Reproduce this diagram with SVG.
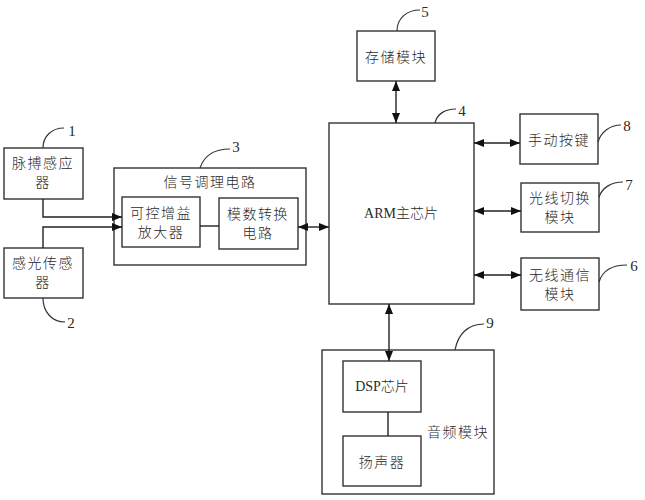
<svg xmlns="http://www.w3.org/2000/svg" width="645" height="500" viewBox="0 0 645 500">
<style>
rect.box{fill:#fff;stroke:#333;stroke-width:1.4}
text{font-family:"Liberation Serif","Noto Sans CJK SC",serif;font-size:14px;font-weight:300;fill:#2a2a2a;text-anchor:middle;dominant-baseline:central;letter-spacing:1.5px}
text.num{font-size:15px;letter-spacing:0;font-weight:400}
.lead{fill:none;stroke:#333;stroke-width:1.2}
.conn{fill:none;stroke:#222;stroke-width:1.4}
</style>
<defs>
<marker id="ah" markerWidth="10" markerHeight="8" refX="10" refY="4" orient="auto-start-reverse" markerUnits="userSpaceOnUse">
<path d="M0,0 L10,4 L0,8 Z" fill="#111"/>
</marker>
</defs>
<rect width="645" height="500" fill="#fff"/>
<g id="n1">
<rect class="box" x="4" y="148" width="79" height="51"/>
<text x="43" y="163">脉搏感应</text>
<text x="43" y="182">器</text>
<path class="lead" d="M43,148 C43,136 52,128 64,128"/>
<text class="num" x="72" y="131">1</text>
</g>
<g id="n2">
<rect class="box" x="4" y="248" width="79" height="50"/>
<text x="43" y="263">感光传感</text>
<text x="43" y="282">器</text>
<path class="lead" d="M43,298 C43,312 52,322 65,322"/>
<text class="num" x="71" y="323">2</text>
</g>
<g id="n3">
<rect class="box" x="114" y="168" width="192" height="97"/>
<text x="210" y="182">信号调理电路</text>
<path class="lead" d="M200,168 C204,156 214,149 230,149"/>
<text class="num" x="236" y="147">3</text>
</g>
<g id="n3a">
<rect class="box" x="122" y="197" width="78" height="50"/>
<text x="161" y="213">可控增益</text>
<text x="161" y="232">放大器</text>
</g>
<g id="n3b">
<rect class="box" x="219" y="198" width="79" height="51"/>
<text x="258" y="214">模数转换</text>
<text x="258" y="233">电路</text>
</g>
<g id="n4">
<rect class="box" x="329" y="123" width="145" height="181"/>
<text x="401" y="213" style="letter-spacing:0">ARM主芯片</text>
<path class="lead" d="M435,123 C437,114 445,109 456,109"/>
<text class="num" x="462" y="111">4</text>
</g>
<g id="n5">
<rect class="box" x="357" y="31" width="78" height="50"/>
<text x="396" y="57">存储模块</text>
<path class="lead" d="M397,31 C397,18 407,10 420,10"/>
<text class="num" x="425" y="12">5</text>
</g>
<g id="n8">
<rect class="box" x="520" y="114" width="78" height="50"/>
<text x="559" y="140">手动按键</text>
<path class="lead" d="M598,142 C601,132 610,125 621,125"/>
<text class="num" x="627" y="126">8</text>
</g>
<g id="n7">
<rect class="box" x="521" y="183" width="78" height="49"/>
<text x="560" y="198">光线切换</text>
<text x="560" y="217">模块</text>
<path class="lead" d="M599,197 C602,188 611,182 623,182"/>
<text class="num" x="629" y="185">7</text>
</g>
<g id="n6">
<rect class="box" x="521" y="258" width="78" height="52"/>
<text x="560" y="275">无线通信</text>
<text x="560" y="294">模块</text>
<path class="lead" d="M599,282 C602,272 611,265 627,265"/>
<text class="num" x="634" y="266">6</text>
</g>
<g id="n9">
<rect class="box" x="322" y="350" width="172" height="144"/>
<text x="458" y="432">音频模块</text>
<path class="lead" d="M455,350 C458,334 468,324 484,324"/>
<text class="num" x="490" y="323">9</text>
</g>
<g id="n9a">
<rect class="box" x="343" y="361" width="78" height="51"/>
<text x="382" y="386" style="letter-spacing:0">DSP芯片</text>
</g>
<g id="n9b">
<rect class="box" x="343" y="436" width="78" height="50"/>
<text x="382" y="462">扬声器</text>
</g>
<g id="connectors">
<path class="conn" d="M43,199 V217 H122" marker-end="url(#ah)"/>
<path class="conn" d="M43,248 V227 H122" marker-end="url(#ah)"/>
<path class="conn" d="M200,226 H219"/>
<path class="conn" d="M298,227 H329" marker-start="url(#ah)" marker-end="url(#ah)"/>
<path class="conn" d="M396,81 V123" marker-start="url(#ah)" marker-end="url(#ah)"/>
<path class="conn" d="M474,143 H520" marker-start="url(#ah)" marker-end="url(#ah)"/>
<path class="conn" d="M474,211 H521" marker-start="url(#ah)" marker-end="url(#ah)"/>
<path class="conn" d="M474,275 H521" marker-start="url(#ah)" marker-end="url(#ah)"/>
<path class="conn" d="M389,304 V361" marker-start="url(#ah)" marker-end="url(#ah)"/>
<path class="conn" d="M388,412 V436"/>
</g>
</svg>
